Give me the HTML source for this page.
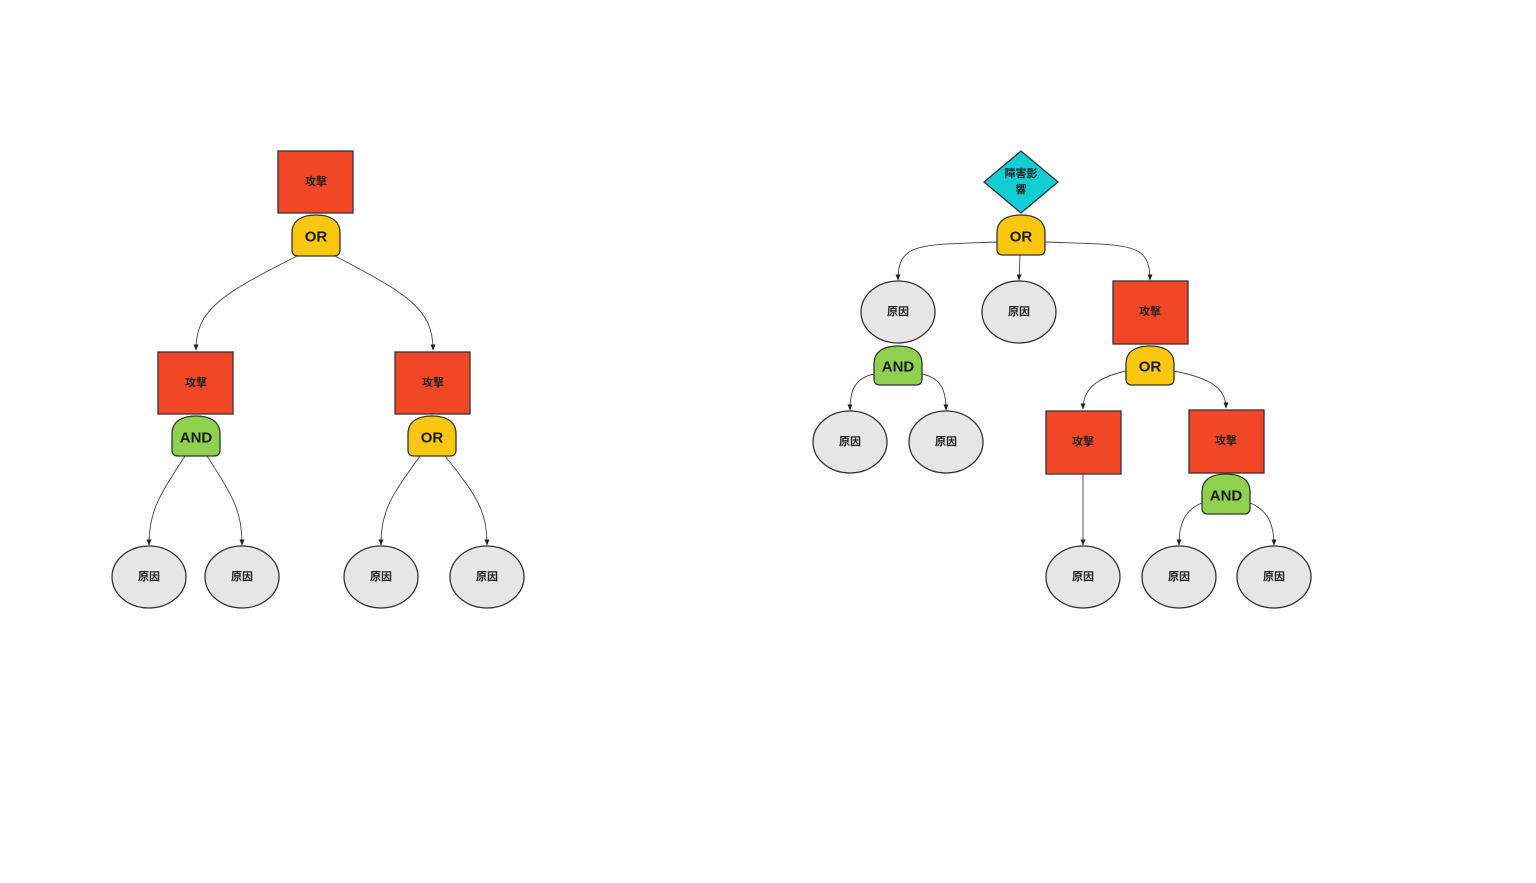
<!DOCTYPE html>
<html><head><meta charset="utf-8"><style>
html,body{margin:0;padding:0;background:#fff;}
svg{display:block;}
.t{font-family:"Liberation Sans","Noto Sans CJK JP",sans-serif;font-size:11px;font-weight:bold;fill:#222;text-anchor:middle;dominant-baseline:central;}
.g{font-family:"Liberation Sans",sans-serif;font-size:15px;font-weight:bold;fill:#1a1a1a;text-anchor:middle;dominant-baseline:central;}
.r{fill:#f24726;stroke:#333;stroke-width:1.3;}
.e{fill:#e6e6e6;stroke:#333;stroke-width:1.3;}
.or{fill:#fac710;stroke:#333;stroke-width:1.3;}
.and{fill:#8fd14f;stroke:#333;stroke-width:1.3;}
.l{fill:none;stroke:#444;stroke-width:0.9;marker-end:url(#a);}
</style></head><body>
<svg width="1536" height="883" viewBox="0 0 1536 883">
<defs><marker id="a" viewBox="0 0 10 10" refX="9" refY="5" markerWidth="7" markerHeight="7" orient="auto"><path d="M0,1 L10,5 L0,9 Z" fill="#222"/></marker></defs>

<!-- connectors left -->
<path class="l" d="M297,256 C220,295 196,310 196,350"/>
<path class="l" d="M335,256 C410,295 433,310 433,350"/>
<path class="l" d="M185,456 C160,495 149,510 149,545"/>
<path class="l" d="M207,456 C232,495 242,510 242,545"/>
<path class="l" d="M420,456 C392,495 381,510 381,545"/>
<path class="l" d="M445,456 C476,495 487,510 487,545"/>

<!-- connectors right -->
<path class="l" d="M997,242 C920,245 898,242 898,280"/>
<path class="l" d="M1020,255 L1019,280"/>
<path class="l" d="M1045,242 C1130,245 1150,242 1150,280"/>
<path class="l" d="M874,374 C855,378 850,390 850,410"/>
<path class="l" d="M922,374 C941,378 946,390 946,410"/>
<path class="l" d="M1126,371 C1095,378 1083,390 1083,409"/>
<path class="l" d="M1174,371 C1210,378 1226,388 1226,408"/>
<path class="l" d="M1083,474 L1083,545"/>
<path class="l" d="M1202,503 C1184,510 1179,525 1179,545"/>
<path class="l" d="M1250,503 C1268,510 1274,525 1274,545"/>

<!-- left tree -->
<rect class="r" x="278" y="151" width="75" height="62"/><text class="t" x="316" y="182">攻撃</text>
<path class="or" d="M292,250 L292,233 C292,219 304,215 316,215 C328,215 340,219 340,233 L340,250 Q340,256 334,256 L298,256 Q292,256 292,250 Z"/><text class="g" x="316" y="237">OR</text>

<rect class="r" x="158" y="352" width="75" height="62"/><text class="t" x="196" y="383">攻撃</text>
<path class="and" d="M172,450 L172,434 C172,420 184,416 196,416 C208,416 220,420 220,434 L220,450 Q220,456 214,456 L178,456 Q172,456 172,450 Z"/><text class="g" x="196" y="438">AND</text>

<rect class="r" x="395" y="352" width="75" height="62"/><text class="t" x="433" y="383">攻撃</text>
<path class="or" d="M408,450 L408,434 C408,420 420,416 432,416 C444,416 456,420 456,434 L456,450 Q456,456 450,456 L414,456 Q408,456 408,450 Z"/><text class="g" x="432" y="438">OR</text>

<ellipse class="e" cx="149" cy="577" rx="37" ry="31"/><text class="t" x="149" y="577">原因</text>
<ellipse class="e" cx="242" cy="577" rx="37" ry="31"/><text class="t" x="242" y="577">原因</text>
<ellipse class="e" cx="381" cy="577" rx="37" ry="31"/><text class="t" x="381" y="577">原因</text>
<ellipse class="e" cx="487" cy="577" rx="37" ry="31"/><text class="t" x="487" y="577">原因</text>

<!-- right tree -->
<polygon points="1021,151 1058,182 1021,213 984,182" fill="#12cdd4" stroke="#333" stroke-width="1.3"/>
<text class="t" x="1021" y="174">障害影</text><text class="t" x="1021" y="190">響</text>
<path class="or" d="M997,249 L997,233 C997,219 1009,215 1021,215 C1033,215 1045,219 1045,233 L1045,249 Q1045,255 1039,255 L1003,255 Q997,255 997,249 Z"/><text class="g" x="1021" y="237">OR</text>

<ellipse class="e" cx="898" cy="312" rx="37" ry="31"/><text class="t" x="898" y="312">原因</text>
<ellipse class="e" cx="1019" cy="312" rx="37" ry="31"/><text class="t" x="1019" y="312">原因</text>
<rect class="r" x="1113" y="281" width="75" height="63"/><text class="t" x="1150" y="312">攻撃</text>

<path class="and" d="M874,379 L874,364 C874,350 886,346 898,346 C910,346 922,350 922,364 L922,379 Q922,385 916,385 L880,385 Q874,385 874,379 Z"/><text class="g" x="898" y="367">AND</text>
<path class="or" d="M1126,379 L1126,364 C1126,350 1138,346 1150,346 C1162,346 1174,350 1174,364 L1174,379 Q1174,385 1168,385 L1132,385 Q1126,385 1126,379 Z"/><text class="g" x="1150" y="367">OR</text>

<ellipse class="e" cx="850" cy="442" rx="37" ry="31"/><text class="t" x="850" y="442">原因</text>
<ellipse class="e" cx="946" cy="442" rx="37" ry="31"/><text class="t" x="946" y="442">原因</text>

<rect class="r" x="1046" y="411" width="75" height="63"/><text class="t" x="1083" y="442">攻撃</text>
<rect class="r" x="1189" y="410" width="75" height="63"/><text class="t" x="1226" y="441">攻撃</text>
<path class="and" d="M1202,508 L1202,492 C1202,478 1214,474 1226,474 C1238,474 1250,478 1250,492 L1250,508 Q1250,514 1244,514 L1208,514 Q1202,514 1202,508 Z"/><text class="g" x="1226" y="496">AND</text>

<ellipse class="e" cx="1083" cy="577" rx="37" ry="31"/><text class="t" x="1083" y="577">原因</text>
<ellipse class="e" cx="1179" cy="577" rx="37" ry="31"/><text class="t" x="1179" y="577">原因</text>
<ellipse class="e" cx="1274" cy="577" rx="37" ry="31"/><text class="t" x="1274" y="577">原因</text>
</svg>
</body></html>
